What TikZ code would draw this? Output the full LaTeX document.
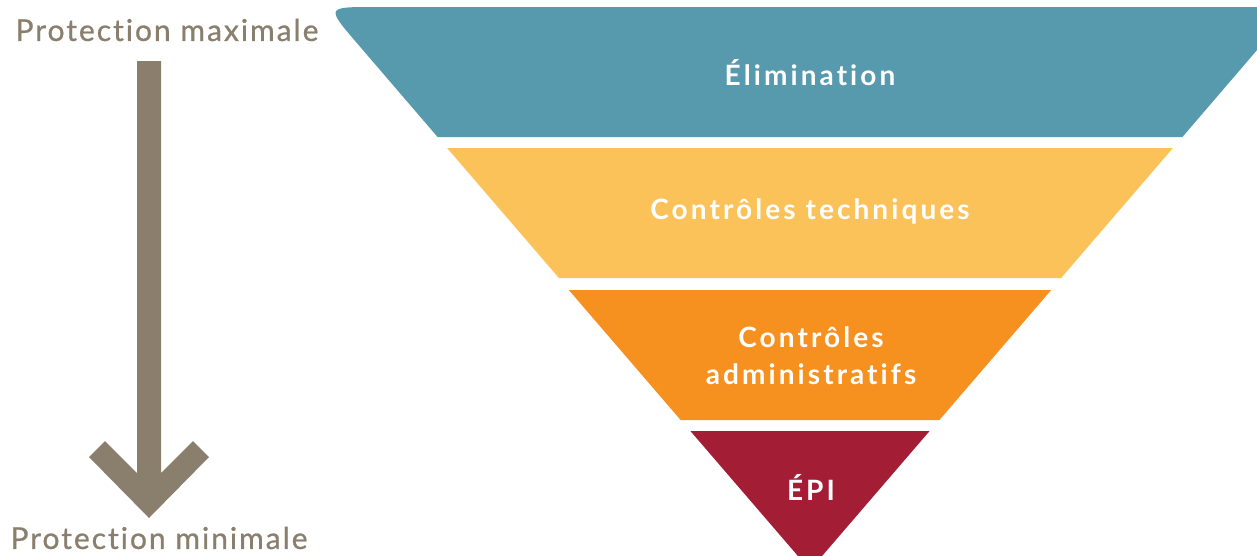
\documentclass[tikz,border=0pt]{standalone}
\usepackage{fontspec}
\setmainfont[Ligatures=NoCommon]{Lato}
\newfontfamily\labelfont[Ligatures=NoCommon,LetterSpace=11]{Lato}
\newfontfamily\sidefont[Ligatures=NoCommon,LetterSpace=6.6,FakeBold=0.8]{Lato}
\definecolor{cTeal}{HTML}{5799AD}
\definecolor{cYellow}{HTML}{FBC25A}
\definecolor{cOrange}{HTML}{F6901E}
\definecolor{cRed}{HTML}{A31D35}
\definecolor{cGray}{HTML}{8A7F6D}
\tikzset{
  layerlabel/.style={text=white, font=\labelfont\fontsize{28}{37}\selectfont\bfseries, align=center, inner sep=0pt},
  sidelabel/.style={text=cGray, font=\sidefont\fontsize{30}{36}\selectfont, inner sep=0pt}
}
\begin{document}
\begin{tikzpicture}[x=1pt,y=-1pt]
\useasboundingbox (0,0) rectangle (1257,555);
\begin{scope}
\clip (0,0) rectangle (1257,555);
\fill[cTeal] (437.6,137) -- (357.2,43.4) .. controls (326,7) .. (374,7) -- (1294,7) -- (1182.4,137) -- cycle;
\fill[cYellow] (447.1,148) -- (1172.9,148) -- (1061.1,278) -- (558.9,278) -- cycle;
\fill[cOrange] (568.8,290) -- (1051.2,290) -- (939.4,420) -- (680.6,420) -- cycle;
\fill[cRed] (690.4,431) -- (929.6,431) -- (810,570) -- cycle;
\fill[cGray] (137,61) -- (161,61) -- (161,473) -- (193,441) -- (209,457) -- (149,518) -- (89,457) -- (105,441) -- (137,473) -- cycle;
\end{scope}
\node[layerlabel] (elim) at (810,73) {Élimination};
\node[layerlabel] (tech) at (810,211) {Contrôles techniques};
\node[layerlabel] (admin) at (811,356) {Contrôles\\administratifs};
\node[layerlabel] (epi) at (811,487) {ÉPI};
\node[sidelabel] (pmax) at (167,30) {Protection maximale};
\node[sidelabel] (pmin) at (159,538) {Protection minimale};
\end{tikzpicture}
\end{document}
